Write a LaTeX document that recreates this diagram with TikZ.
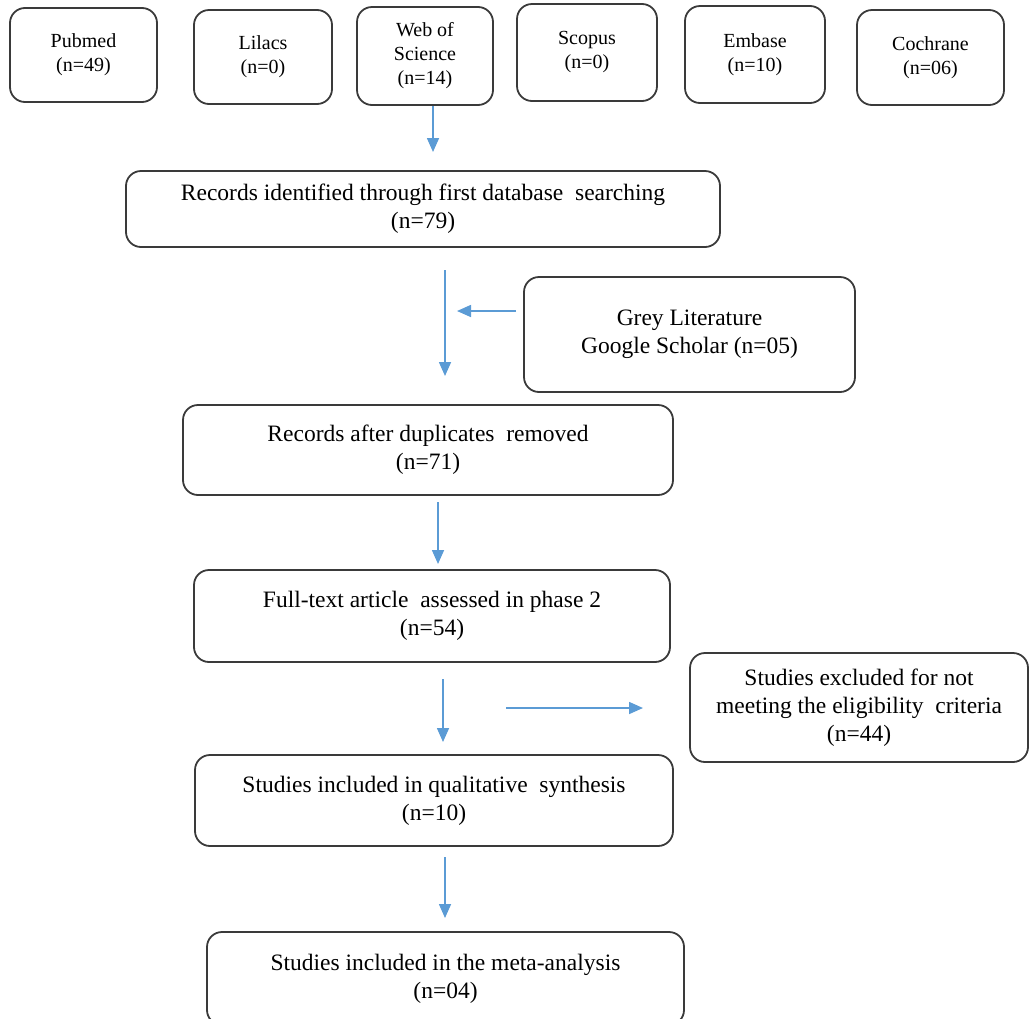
\documentclass[tikz,border=0pt]{standalone}
\usepackage{fontspec}
\setmainfont{Liberation Serif}
\usetikzlibrary{arrows.meta}
\definecolor{boxline}{HTML}{3A3A3A}
\definecolor{arrowblue}{HTML}{5B9BD5}
\tikzset{
  dbbox/.style={draw=boxline, line width=1.8pt, rounded corners=15pt, align=center,
    inner sep=0pt, font=\fontsize{20}{24}\selectfont},
  stagebox/.style={draw=boxline, line width=1.8pt, rounded corners=15pt, align=center,
    inner sep=0pt, font=\fontsize{23.5}{28}\selectfont},
  flow/.style={draw=arrowblue, line width=1.6pt, -{Triangle[length=14pt,width=12pt]}}
}
\begin{document}
\begin{tikzpicture}[x=1pt,y=-1pt]
\useasboundingbox (0,0) rectangle (1030,1018);
% database boxes
\node[dbbox, minimum width=147pt, minimum height=94pt] (pubmed) at (83.5,55) {Pubmed\\(n=49)};
\node[dbbox, minimum width=138pt, minimum height=94pt] (lilacs) at (263,57) {Lilacs\\(n=0)};
\node[dbbox, minimum width=136pt, minimum height=98pt] (wos) at (425,56) {Web of\\Science\\(n=14)};
\node[dbbox, minimum width=140pt, minimum height=97pt] (scopus) at (587,52.5) {Scopus\\(n=0)};
\node[dbbox, minimum width=140pt, minimum height=97pt] (embase) at (755,54.5) {Embase\\(n=10)};
\node[dbbox, minimum width=147pt, minimum height=95pt] (cochrane) at (930.5,57.5) {Cochrane\\(n=06)};
% stage boxes
\node[stagebox, minimum width=594pt, minimum height=76pt] (rec) at (423,209) {Records identified through first database\ \ searching\\(n=79)};
\node[stagebox, minimum width=331pt, minimum height=115pt] (grey) at (689.5,334.5) {Grey Literature\\Google Scholar (n=05)};
\node[stagebox, minimum width=490pt, minimum height=90pt] (dup) at (428,450) {Records after duplicates\ \ removed\\(n=71)};
\node[stagebox, minimum width=476pt, minimum height=92pt] (full) at (432,616) {Full-text article\ \ assessed in phase 2\\(n=54)};
\node[stagebox, minimum width=338pt, minimum height=109pt] (excl) at (859,707.5) {Studies excluded for not\\meeting the eligibility\ \ criteria\\(n=44)};
\node[stagebox, minimum width=478pt, minimum height=91pt] (qual) at (434,800.5) {Studies included in qualitative\ \ synthesis\\(n=10)};
\node[stagebox, minimum width=477pt, minimum height=93pt] (meta) at (445.5,978.5) {Studies included in the meta-analysis\\(n=04)};
% free-standing arrows
\coordinate (a1s) at (433,106); \coordinate (a1e) at (433,152);
\coordinate (a2s) at (445,270); \coordinate (a2e) at (445,376);
\coordinate (h1s) at (516,311); \coordinate (h1e) at (457,311);
\coordinate (a3s) at (438,502); \coordinate (a3e) at (438,564);
\coordinate (a4s) at (443,679); \coordinate (a4e) at (443,742);
\coordinate (h2s) at (506,708); \coordinate (h2e) at (643,708);
\coordinate (a5s) at (445,857); \coordinate (a5e) at (445,918);
\draw[flow] (a1s) -- (a1e);
\draw[flow] (a2s) -- (a2e);
\draw[flow] (h1s) -- (h1e);
\draw[flow] (a3s) -- (a3e);
\draw[flow] (a4s) -- (a4e);
\draw[flow] (h2s) -- (h2e);
\draw[flow] (a5s) -- (a5e);
\end{tikzpicture}
\end{document}
